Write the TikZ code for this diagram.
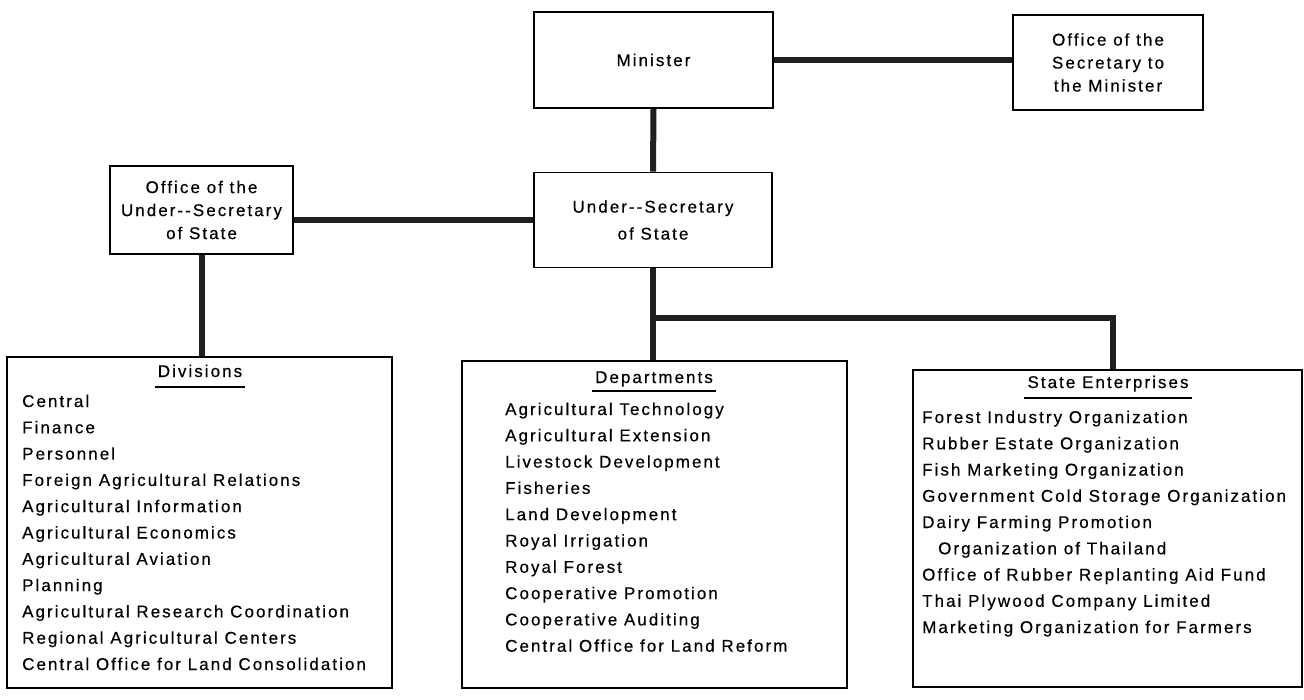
\documentclass[tikz,border=0pt]{standalone}
\usepackage{fontspec}
\setmainfont[LetterSpace=12,FakeBold=0.4]{Liberation Sans}
\usetikzlibrary{calc}
\tikzset{
  orgbox/.style={draw=black, line width=1.6pt, align=center, inner sep=0pt},
  link/.style={line width=6pt, draw=black!88},
  item/.style={inner sep=0pt, anchor=base west, font=\fontsize{17}{18}\selectfont},
  hdr/.style={inner sep=0pt, anchor=base, font=\fontsize{17}{18}\selectfont},
  uline/.style={line width=1.4pt}
}
\begin{document}
\begin{tikzpicture}[x=1pt,y=-1pt]
\useasboundingbox[fill=white] (0,0) rectangle (1304,699);

% top boxes
\node[orgbox, minimum width=239, minimum height=96, font=\fontsize{17}{22}\selectfont] (min) at (653.5,60) {Minister};
\node[orgbox, minimum width=190, minimum height=95, font=\fontsize{17}{23}\selectfont] (secoff) at (1108,62.5) {Office of the\\Secretary to\\the Minister};
\node[orgbox, minimum width=238, minimum height=95, font=\fontsize{17}{27}\selectfont] (undersec) at (653,220) {Under-{}-Secretary\\of State};
\node[orgbox, minimum width=183, minimum height=88, font=\fontsize{17}{23}\selectfont] (offus) at (201.5,210) {Office of the\\Under-{}-Secretary\\of State};

% list boxes
\node[orgbox, minimum width=385, minimum height=331] (div) at (199.5,522.5) {};
\node[orgbox, minimum width=385, minimum height=327] (dep) at (654.5,524.5) {};
\node[orgbox, minimum width=389, minimum height=317] (ste) at (1107.5,528.5) {};

% connectors
\draw[link] (min.east) -- (min.east -| secoff.west);
\draw[link] (undersec.west) -- (undersec.west -| offus.east);
\draw[link] (min.south) -- (undersec.north);
\draw[link] (offus.south) -- (offus.south |- div.north);
\draw[link] (undersec.south) -- (undersec.south |- dep.north);
\coordinate (br) at (1113,318);
\coordinate (brs) at ($(undersec.south |- br)+(-3,0)$);
\draw[link, line join=miter] (brs) -- (br) -- (br |- ste.north);

% headers
\node[hdr] (divh) at (200,377) {Divisions};
\node[hdr] (deph) at (654,383) {Departments};
\node[hdr] (steh) at (1108,388) {State Enterprises};
\draw[uline] ([shift={(-3,10)}]divh.base west) -- ([shift={(3,10)}]divh.base east);
\draw[uline] ([shift={(-3,8)}]deph.base west) -- ([shift={(3,8)}]deph.base east);
\draw[uline] ([shift={(-3,10)}]steh.base west) -- ([shift={(3,10)}]steh.base east);

% items
\foreach \t [count=\i] in {Central, Finance, Personnel, Foreign Agricultural Relations,
  Agricultural Information, Agricultural Economics, Agricultural Aviation, Planning,
  Agricultural Research Coordination, Regional Agricultural Centers,
  Central Office for Land Consolidation}
  \node[item, name=dv\i] at (22,{407+26.3*(\i-1)}) {\t};

\foreach \t [count=\i] in {Agricultural Technology, Agricultural Extension,
  Livestock Development, Fisheries, Land Development, Royal Irrigation, Royal Forest,
  Cooperative Promotion, Cooperative Auditing, Central Office for Land Reform}
  \node[item, name=dp\i] at (505,{415+26.3*(\i-1)}) {\t};

\foreach \t/\xx [count=\i] in {Forest Industry Organization/922, Rubber Estate Organization/922,
  Fish Marketing Organization/922, Government Cold Storage Organization/922,
  Dairy Farming Promotion/922, Organization of Thailand/938,
  Office of Rubber Replanting Aid Fund/922, Thai Plywood Company Limited/922,
  Marketing Organization for Farmers/922}
  \node[item, name=se\i] at (\xx,{423+26.25*(\i-1)}) {\t};
\end{tikzpicture}
\end{document}
